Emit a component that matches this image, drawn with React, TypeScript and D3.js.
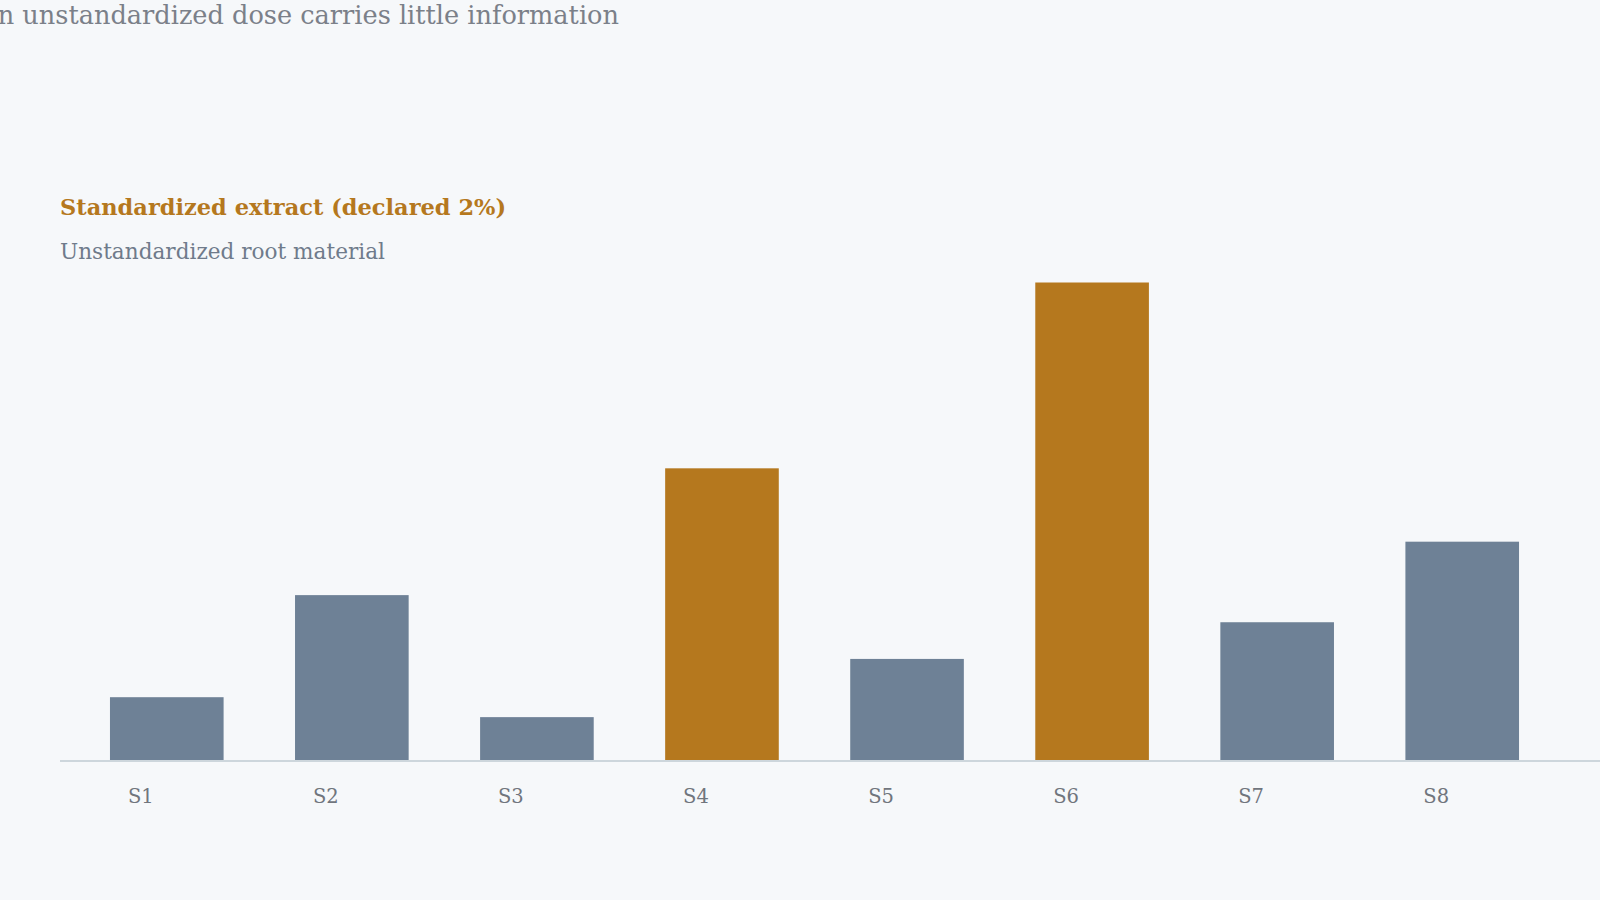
import React from "react";
import * as d3 from "d3";

const categories = ["S1", "S2", "S3", "S4", "S5", "S6", "S7", "S8"];
const values = [0.4, 1.04, 0.275, 1.835, 0.64, 3.0, 0.87, 1.375];
const standardized = [false, false, false, true, false, true, false, false];
const titleText = "n unstandardized dose carries little information";
const legendLabels = ["Standardized extract (declared 2%)", "Unstandardized root material"];

const W = 1600;
const H = 900;
const GOLD = "#b5781e";
const SLATE = "#6e8196";
const FONT = "Georgia, 'DejaVu Serif', serif";

export default function App() {
  const x = d3
    .scaleBand<string>()
    .domain(categories)
    .range([60, 1569])
    .paddingInner(0.386)
    .paddingOuter(0.27);
  const y = d3.scaleLinear().domain([0, 3.0]).range([761, 282.5]);

  return (
    <div style={{ position: "fixed", left: 0, top: 0, width: W, height: H, background: "#f6f8fa" }}>
      <svg width={W} height={H} style={{ display: "block" }}>
        <rect x={0} y={0} width={W} height={H} fill="#f6f8fa" />
        <text x={619} y={23.5} textAnchor="end" fontFamily={FONT} fontSize={25.6} fill="#7b8089">
          {titleText}
        </text>
        <text x={60} y={215} fontFamily={FONT} fontSize={22.5} fontWeight="bold" fill={GOLD}>
          {legendLabels[0]}
        </text>
        <text x={60} y={258.5} fontFamily={FONT} fontSize={21.6} fill="#6f7b8b">
          {legendLabels[1]}
        </text>
        {categories.map((c, i) => (
          <rect
            key={c}
            x={x(c)}
            y={y(values[i])}
            width={x.bandwidth()}
            height={y(0) - y(values[i])}
            fill={standardized[i] ? GOLD : SLATE}
          />
        ))}
        <line x1={60} x2={W} y1={y(0)} y2={y(0)} stroke="#cdd6dc" strokeWidth={2} />
        {categories.map((c) => (
          <text
            key={c}
            x={(x(c) as number) + x.bandwidth() / 2 - 26}
            y={803}
            textAnchor="middle"
            fontFamily={FONT}
            fontSize={19.5}
            fill="#70757d"
          >
            {c}
          </text>
        ))}
      </svg>
    </div>
  );
}
